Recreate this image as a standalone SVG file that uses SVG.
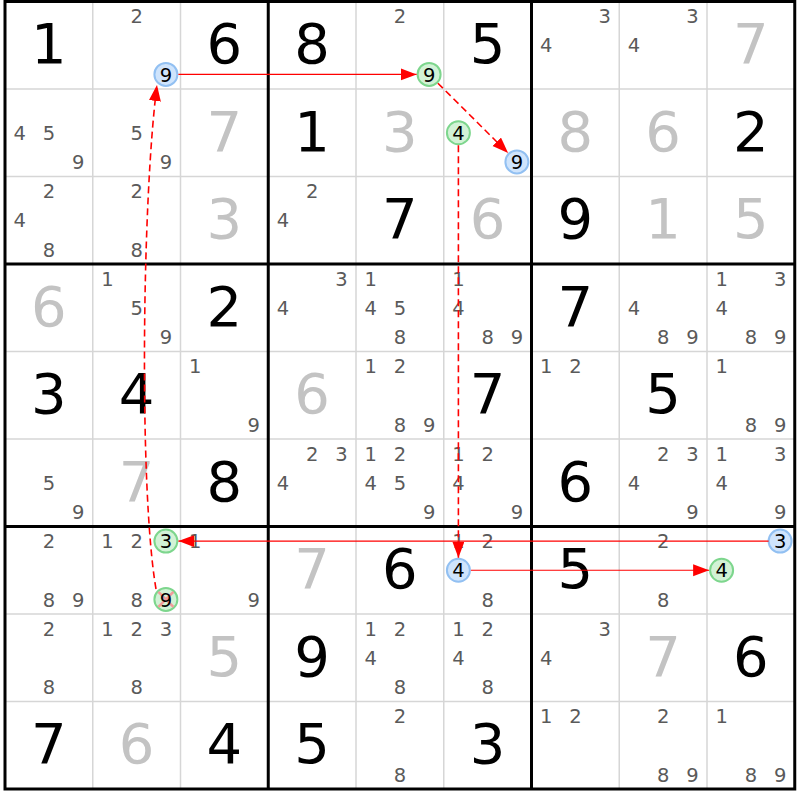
<svg xmlns="http://www.w3.org/2000/svg" width="800" height="800" viewBox="0 0 800 800">
<defs>
<style>
.g{font:56px "DejaVu Sans",sans-serif;fill:#000;text-anchor:middle}
.s{font:56px "DejaVu Sans",sans-serif;fill:#c3c3c3;text-anchor:middle}
.c{font:19.5px "DejaVu Sans",sans-serif;fill:#5a5a5a;text-anchor:middle}
.h{font:19.5px "DejaVu Sans",sans-serif;fill:#000;text-anchor:middle}
.bl{fill:#cfe4fc;stroke:#92c0f2;stroke-width:2}
.gr{fill:#d2f2d6;stroke:#7dd68d;stroke-width:2}
.thin{stroke:#d6d6d6;stroke-width:1.5}
.thick{stroke:#000;stroke-width:3;fill:none}
.sol{stroke:#ff0000;stroke-width:1.2;fill:none;marker-end:url(#ah)}
.dsh{stroke:#ff0000;stroke-width:1.6;fill:none;stroke-dasharray:7 4;marker-end:url(#ah)}
.x{stroke:#f29a9a;stroke-width:2.5}
</style>
<marker id="ah" markerUnits="userSpaceOnUse" markerWidth="17" markerHeight="13" viewBox="0 0 17 13" refX="16" refY="6" orient="auto">
<path d="M0,0 L16,6 L0,12 z" fill="#ff0000"/>
</marker>
</defs>
<rect width="800" height="800" fill="#fff"/>
<g id="grid">
<path class="thin" d="M92.75,1.5V789M180.5,1.5V789M356,1.5V789M443.75,1.5V789M619.25,1.5V789M707,1.5V789M5,89H794.75M5,176.5H794.75M5,351.5H794.75M5,439H794.75M5,614H794.75M5,701.5H794.75"/>
<path class="thick" d="M268.25,1.5V789M531.5,1.5V789M5,264H794.75M5,526.5H794.75"/>
<rect class="thick" x="5" y="1.5" width="789.75" height="787.5"/>
</g>
<g id="cells">
<g id="r0c0"><text class="g" x="48.9" y="63">1</text></g>
<g id="r0c1"><text class="c" x="136.6" y="23.2">2</text><circle class="bl" cx="165.9" cy="74.4" r="11.5"/><text class="h" x="165.9" y="81.5">9</text></g>
<g id="r0c2"><text class="g" x="224.4" y="63">6</text></g>
<g id="r0c3"><text class="g" x="312.1" y="63">8</text></g>
<g id="r0c4"><text class="c" x="399.9" y="23.2">2</text><circle class="gr" cx="429.1" cy="74.4" r="11.5"/><text class="h" x="429.1" y="81.5">9</text></g>
<g id="r0c5"><text class="g" x="487.6" y="63">5</text></g>
<g id="r0c6"><text class="c" x="604.6" y="23.2">3</text><text class="c" x="546.1" y="52.35">4</text></g>
<g id="r0c7"><text class="c" x="692.4" y="23.2">3</text><text class="c" x="633.9" y="52.35">4</text></g>
<g id="r0c8"><text class="s" x="750.9" y="63">7</text></g>

<g id="r1c0"><text class="c" x="19.6" y="139.85">4</text><text class="c" x="48.9" y="139.85">5</text><text class="c" x="78.1" y="169">9</text></g>
<g id="r1c1"><text class="c" x="136.6" y="139.85">5</text><text class="c" x="165.9" y="169">9</text></g>
<g id="r1c2"><text class="s" x="224.4" y="150.5">7</text></g>
<g id="r1c3"><text class="g" x="312.1" y="150.5">1</text></g>
<g id="r1c4"><text class="s" x="399.9" y="150.5">3</text></g>
<g id="r1c5"><circle class="gr" cx="458.4" cy="132.75" r="11.5"/><text class="h" x="458.4" y="139.85">4</text><circle class="bl" cx="516.9" cy="161.9" r="11.5"/><text class="h" x="516.9" y="169">9</text></g>
<g id="r1c6"><text class="s" x="575.4" y="150.5">8</text></g>
<g id="r1c7"><text class="s" x="663.1" y="150.5">6</text></g>
<g id="r1c8"><text class="g" x="750.9" y="150.5">2</text></g>

<g id="r2c0"><text class="c" x="48.9" y="198.2">2</text><text class="c" x="19.6" y="227.35">4</text><text class="c" x="48.9" y="256.5">8</text></g>
<g id="r2c1"><text class="c" x="136.6" y="198.2">2</text><text class="c" x="136.6" y="256.5">8</text></g>
<g id="r2c2"><text class="s" x="224.4" y="238">3</text></g>
<g id="r2c3"><text class="c" x="312.1" y="198.2">2</text><text class="c" x="282.9" y="227.35">4</text></g>
<g id="r2c4"><text class="g" x="399.9" y="238">7</text></g>
<g id="r2c5"><text class="s" x="487.6" y="238">6</text></g>
<g id="r2c6"><text class="g" x="575.4" y="238">9</text></g>
<g id="r2c7"><text class="s" x="663.1" y="238">1</text></g>
<g id="r2c8"><text class="s" x="750.9" y="238">5</text></g>

<g id="r3c0"><text class="s" x="48.9" y="325.5">6</text></g>
<g id="r3c1"><text class="c" x="107.4" y="285.7">1</text><text class="c" x="136.6" y="314.85">5</text><text class="c" x="165.9" y="344">9</text></g>
<g id="r3c2"><text class="g" x="224.4" y="325.5">2</text></g>
<g id="r3c3"><text class="c" x="341.4" y="285.7">3</text><text class="c" x="282.9" y="314.85">4</text></g>
<g id="r3c4"><text class="c" x="370.6" y="285.7">1</text><text class="c" x="370.6" y="314.85">4</text><text class="c" x="399.9" y="314.85">5</text><text class="c" x="399.9" y="344">8</text></g>
<g id="r3c5"><text class="c" x="458.4" y="285.7">1</text><text class="c" x="458.4" y="314.85">4</text><text class="c" x="487.6" y="344">8</text><text class="c" x="516.9" y="344">9</text></g>
<g id="r3c6"><text class="g" x="575.4" y="325.5">7</text></g>
<g id="r3c7"><text class="c" x="633.9" y="314.85">4</text><text class="c" x="663.1" y="344">8</text><text class="c" x="692.4" y="344">9</text></g>
<g id="r3c8"><text class="c" x="721.6" y="285.7">1</text><text class="c" x="780.1" y="285.7">3</text><text class="c" x="721.6" y="314.85">4</text><text class="c" x="750.9" y="344">8</text><text class="c" x="780.1" y="344">9</text></g>

<g id="r4c0"><text class="g" x="48.9" y="413">3</text></g>
<g id="r4c1"><text class="g" x="136.6" y="413">4</text></g>
<g id="r4c2"><text class="c" x="195.1" y="373.2">1</text><text class="c" x="253.6" y="431.5">9</text></g>
<g id="r4c3"><text class="s" x="312.1" y="413">6</text></g>
<g id="r4c4"><text class="c" x="370.6" y="373.2">1</text><text class="c" x="399.9" y="373.2">2</text><text class="c" x="399.9" y="431.5">8</text><text class="c" x="429.1" y="431.5">9</text></g>
<g id="r4c5"><text class="g" x="487.6" y="413">7</text></g>
<g id="r4c6"><text class="c" x="546.1" y="373.2">1</text><text class="c" x="575.4" y="373.2">2</text></g>
<g id="r4c7"><text class="g" x="663.1" y="413">5</text></g>
<g id="r4c8"><text class="c" x="721.6" y="373.2">1</text><text class="c" x="750.9" y="431.5">8</text><text class="c" x="780.1" y="431.5">9</text></g>

<g id="r5c0"><text class="c" x="48.9" y="489.85">5</text><text class="c" x="78.1" y="519">9</text></g>
<g id="r5c1"><text class="s" x="136.6" y="500.5">7</text></g>
<g id="r5c2"><text class="g" x="224.4" y="500.5">8</text></g>
<g id="r5c3"><text class="c" x="312.1" y="460.7">2</text><text class="c" x="341.4" y="460.7">3</text><text class="c" x="282.9" y="489.85">4</text></g>
<g id="r5c4"><text class="c" x="370.6" y="460.7">1</text><text class="c" x="399.9" y="460.7">2</text><text class="c" x="370.6" y="489.85">4</text><text class="c" x="399.9" y="489.85">5</text><text class="c" x="429.1" y="519">9</text></g>
<g id="r5c5"><text class="c" x="458.4" y="460.7">1</text><text class="c" x="487.6" y="460.7">2</text><text class="c" x="458.4" y="489.85">4</text><text class="c" x="516.9" y="519">9</text></g>
<g id="r5c6"><text class="g" x="575.4" y="500.5">6</text></g>
<g id="r5c7"><text class="c" x="663.1" y="460.7">2</text><text class="c" x="692.4" y="460.7">3</text><text class="c" x="633.9" y="489.85">4</text><text class="c" x="692.4" y="519">9</text></g>
<g id="r5c8"><text class="c" x="721.6" y="460.7">1</text><text class="c" x="780.1" y="460.7">3</text><text class="c" x="721.6" y="489.85">4</text><text class="c" x="780.1" y="519">9</text></g>

<g id="r6c0"><text class="c" x="48.9" y="548.2">2</text><text class="c" x="48.9" y="606.5">8</text><text class="c" x="78.1" y="606.5">9</text></g>
<g id="r6c1"><text class="c" x="107.4" y="548.2">1</text><text class="c" x="136.6" y="548.2">2</text><circle class="gr" cx="165.9" cy="541.1" r="11.5"/><text class="h" x="165.9" y="548.2">3</text><text class="c" x="136.6" y="606.5">8</text><circle class="gr" cx="165.9" cy="599.4" r="11.5"/><path class="x" d="M158.4,591.9L173.4,606.9M173.4,591.9L158.4,606.9"/><text class="h" x="165.9" y="606.5">9</text></g>
<g id="r6c2"><text class="c" x="195.1" y="548.2">1</text><text class="c" x="253.6" y="606.5">9</text></g>
<g id="r6c3"><text class="s" x="312.1" y="588">7</text></g>
<g id="r6c4"><text class="g" x="399.9" y="588">6</text></g>
<g id="r6c5"><text class="c" x="458.4" y="548.2">1</text><text class="c" x="487.6" y="548.2">2</text><circle class="bl" cx="458.4" cy="570.25" r="11.5"/><text class="h" x="458.4" y="577.35">4</text><text class="c" x="487.6" y="606.5">8</text></g>
<g id="r6c6"><text class="g" x="575.4" y="588">5</text></g>
<g id="r6c7"><text class="c" x="663.1" y="548.2">2</text><text class="c" x="663.1" y="606.5">8</text></g>
<g id="r6c8"><circle class="bl" cx="780.1" cy="541.1" r="11.5"/><text class="h" x="780.1" y="548.2">3</text><circle class="gr" cx="721.6" cy="570.25" r="11.5"/><text class="h" x="721.6" y="577.35">4</text></g>

<g id="r7c0"><text class="c" x="48.9" y="635.7">2</text><text class="c" x="48.9" y="694">8</text></g>
<g id="r7c1"><text class="c" x="107.4" y="635.7">1</text><text class="c" x="136.6" y="635.7">2</text><text class="c" x="165.9" y="635.7">3</text><text class="c" x="136.6" y="694">8</text></g>
<g id="r7c2"><text class="s" x="224.4" y="675.5">5</text></g>
<g id="r7c3"><text class="g" x="312.1" y="675.5">9</text></g>
<g id="r7c4"><text class="c" x="370.6" y="635.7">1</text><text class="c" x="399.9" y="635.7">2</text><text class="c" x="370.6" y="664.85">4</text><text class="c" x="399.9" y="694">8</text></g>
<g id="r7c5"><text class="c" x="458.4" y="635.7">1</text><text class="c" x="487.6" y="635.7">2</text><text class="c" x="458.4" y="664.85">4</text><text class="c" x="487.6" y="694">8</text></g>
<g id="r7c6"><text class="c" x="604.6" y="635.7">3</text><text class="c" x="546.1" y="664.85">4</text></g>
<g id="r7c7"><text class="s" x="663.1" y="675.5">7</text></g>
<g id="r7c8"><text class="g" x="750.9" y="675.5">6</text></g>

<g id="r8c0"><text class="g" x="48.9" y="763">7</text></g>
<g id="r8c1"><text class="s" x="136.6" y="763">6</text></g>
<g id="r8c2"><text class="g" x="224.4" y="763">4</text></g>
<g id="r8c3"><text class="g" x="312.1" y="763">5</text></g>
<g id="r8c4"><text class="c" x="399.9" y="723.2">2</text><text class="c" x="399.9" y="781.5">8</text></g>
<g id="r8c5"><text class="g" x="487.6" y="763">3</text></g>
<g id="r8c6"><text class="c" x="546.1" y="723.2">1</text><text class="c" x="575.4" y="723.2">2</text></g>
<g id="r8c7"><text class="c" x="663.1" y="723.2">2</text><text class="c" x="663.1" y="781.5">8</text><text class="c" x="692.4" y="781.5">9</text></g>
<g id="r8c8"><text class="c" x="721.6" y="723.2">1</text><text class="c" x="750.9" y="781.5">8</text><text class="c" x="780.1" y="781.5">9</text></g>
</g>
<g id="connectors">
<path class="sol" d="M178.4,74.4H416.6"/>
<path class="dsh" d="M437.9,83.2L508.1,153.1"/>
<path class="dsh" d="M458.4,145.25V557.75"/>
<path class="sol" d="M470.9,570.25H709.1"/>
<path class="sol" d="M768.6,541.1H178.4"/>
<path class="dsh" d="M156,589C139,490 142,200 157,85"/>
</g>
</svg>
